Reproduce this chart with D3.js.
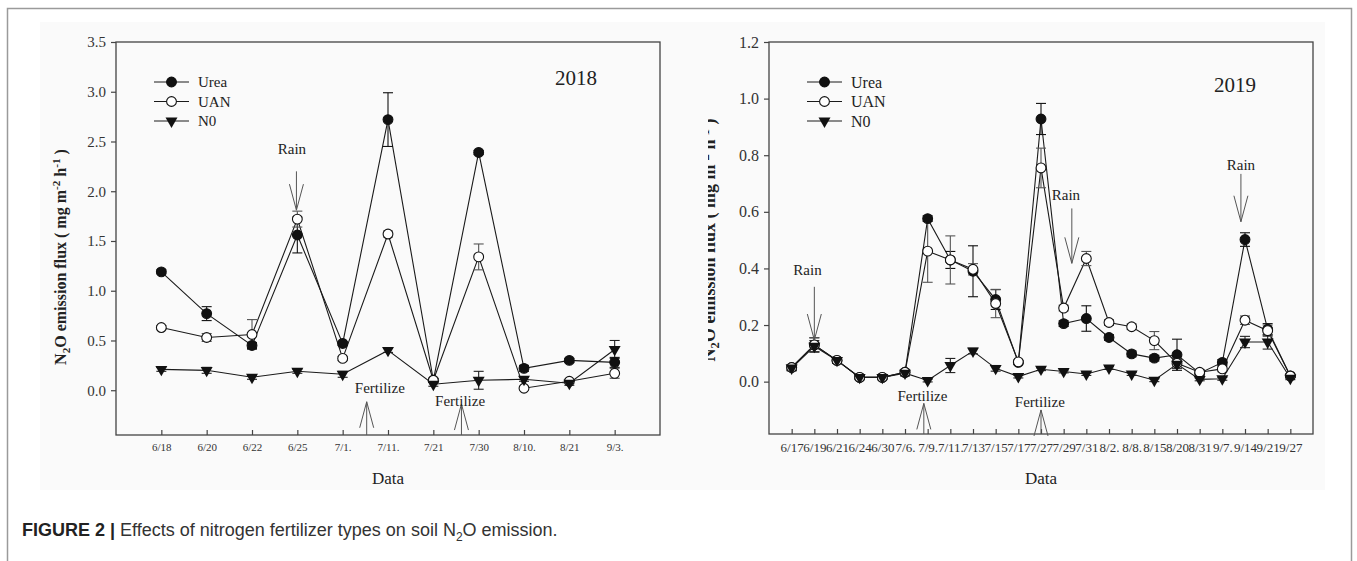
<!DOCTYPE html>
<html lang="en">
<head>
<meta charset="utf-8">
<title>N2O emission flux 2018 / 2019</title>
<script src="https://cdn.jsdelivr.net/npm/d3@7"></script>
<style>
body { margin: 0; background: #fff; }
</style>
</head>
<body>
<svg id="fig" width="1357" height="561"></svg>
<script>
// ---- 2018 data ----
var dates18 = ["6/18", "6/20", "6/22", "6/25", "7/1.", "7/11.", "7/21", "7/30", "8/10.", "8/21", "9/3."];
var urea18 = [1.19, 0.77, 0.45, 1.56, 0.47, 2.72, 0.10, 2.39, 0.22, 0.30, 0.28];
var ureaErr18 = [0.02, 0.07, 0.03, 0.18, 0.02, 0.27, 0.02, 0.02, 0.03, 0.02, 0.05];
var uan18 = [0.63, 0.53, 0.56, 1.72, 0.32, 1.57, 0.10, 1.34, 0.02, 0.09, 0.17];
var uanErr18 = [0.02, 0.04, 0.15, 0.08, 0.02, 0.03, 0.02, 0.13, 0.02, 0.02, 0.05];
var n018 = [0.21, 0.20, 0.13, 0.19, 0.16, 0.40, 0.06, 0.10, 0.11, 0.07, 0.41];
var n0Err18 = [0.02, 0.03, 0.02, 0.02, 0.03, 0.02, 0.02, 0.09, 0.02, 0.02, 0.09];
var yTicks18 = [0, 0.5, 1, 1.5, 2, 2.5, 3, 3.5];

// ---- 2019 data ----
var dates19 = ["6/17", "6/19", "6/21", "6/24", "6/30", "7/6.", "7/9.", "7/11.", "7/13", "7/15", "7/17", "7/27",
  "7/29", "7/31", "8/2.", "8/8.", "8/15", "8/20", "8/31", "9/7.", "9/14", "9/21", "9/27"];
var urea19 = [0.05, 0.13, 0.075, 0.015, 0.015, 0.033, 0.576, 0.43, 0.39, 0.29, 0.068, 0.928,
  0.205, 0.223, 0.156, 0.098, 0.083, 0.095, 0.03, 0.068, 0.502, 0.185, 0.02];
var ureaErr19 = [0.01, 0.025, 0.01, 0.005, 0.005, 0.01, 0.01, 0.03, 0.09, 0.035, 0.005, 0.055,
  0.01, 0.045, 0.01, 0.01, 0.01, 0.055, 0.01, 0.01, 0.024, 0.02, 0.005];
var uan19 = [0.05, 0.13, 0.075, 0.015, 0.015, 0.033, 0.461, 0.43, 0.397, 0.276, 0.07, 0.755,
  0.26, 0.435, 0.209, 0.194, 0.145, 0.065, 0.033, 0.045, 0.217, 0.18, 0.02];
var uanErr19 = [0.01, 0.025, 0.01, 0.005, 0.005, 0.01, 0.11, 0.085, 0.02, 0.05, 0.005, 0.07,
  0.01, 0.025, 0.01, 0.01, 0.032, 0.01, 0.01, 0.01, 0.015, 0.02, 0.005];
var n019 = [0.048, 0.125, 0.075, 0.015, 0.015, 0.03, 0.004, 0.057, 0.108, 0.047, 0.018, 0.044,
  0.036, 0.027, 0.048, 0.027, 0.005, 0.062, 0.008, 0.01, 0.14, 0.14, 0.012];
var n0Err19 = [0.01, 0.02, 0.01, 0.005, 0.005, 0.01, 0.005, 0.025, 0.01, 0.01, 0.005, 0.005,
  0.005, 0.005, 0.005, 0.005, 0.005, 0.015, 0.005, 0.005, 0.02, 0.025, 0.005];
var yTicks19 = [0, 0.2, 0.4, 0.6, 0.8, 1.0, 1.2];

var seriesNames = ["Urea", "UAN", "N0"];

// annotations, in category index / data units
var rain18 = [{x: 2.98, tx: 2.88, ty: 2.43, from: 2.2, to: 1.81}];
var fert18 = [{x: 4.53, tx: 4.82, ty: 0.025, tip: -0.116}, {x: 6.62, tx: 6.59, ty: -0.109, tip: -0.139}];
var rain19 = [{x: 1, tx: 0.70, ty: 0.394, from: 0.335, to: 0.147},
  {x: 12.36, tx: 12.1, ty: 0.662, from: 0.612, to: 0.418},
  {x: 19.82, tx: 19.82, ty: 0.768, from: 0.734, to: 0.565}];
var fert19 = [{x: 5.83, tx: 5.77, ty: -0.051, tip: -0.077}, {x: 11.0, tx: 10.95, ty: -0.071, tip: -0.10}];

var serif = "'Liberation Serif', 'Times New Roman', serif";
var svg = d3.select("#fig");

// page frame + light image background
svg.append("rect").attr("x", 40).attr("y", 22).attr("width", 1285).attr("height", 468).attr("fill", "#fafafa");
svg.append("path").attr("d", "M7.5,561V8.5H1351.5V561").attr("fill", "none").attr("stroke", "#9a9a9a").attr("stroke-width", 1.5);

function panel(o) {
  var g = svg.append("g");
  var x = d3.scaleLinear().domain([-1, o.dates.length]).range([o.left, o.right]);
  var y = d3.scaleLinear().domain(o.yDomain).range([o.bottom, o.top]);

  g.append("rect")
    .attr("x", o.left).attr("y", o.top)
    .attr("width", o.right - o.left).attr("height", o.bottom - o.top)
    .attr("fill", "none").attr("stroke", "#444").attr("stroke-width", 1.3);

  var ya = g.append("g").attr("transform", "translate(" + o.left + ",0)")
    .call(d3.axisLeft(y).tickValues(o.yTicks).tickFormat(d3.format(".1f")).tickSize(5).tickPadding(5));
  ya.select(".domain").remove();
  ya.selectAll("line").attr("stroke", "#444").attr("stroke-width", 1.2);
  ya.selectAll("text").attr("font-family", serif).attr("font-size", o.yFont).attr("fill", "#333");

  var xa = g.append("g").attr("transform", "translate(0," + o.bottom + ")")
    .call(d3.axisBottom(x).tickValues(d3.range(o.dates.length))
      .tickFormat(function(i) { return o.dates[i]; })
      .tickSizeInner(-5).tickSizeOuter(0).tickPadding(o.xPad));
  xa.select(".domain").remove();
  xa.selectAll("line").attr("stroke", "#444").attr("stroke-width", 1.2);
  xa.selectAll("text").attr("font-family", serif).attr("font-size", o.xFont).attr("fill", "#333");

  // axis titles
  g.append("text")
    .attr("x", (o.left + o.right) / 2).attr("y", o.dataY)
    .attr("text-anchor", "middle").attr("font-family", serif).attr("font-size", 17).attr("fill", "#222")
    .text("Data");

  var yt = g.append("g");
  if (o.clipX) {
    svg.append("clipPath").attr("id", "clipT").append("rect")
      .attr("x", o.clipX).attr("y", 0).attr("width", 60).attr("height", 561);
    yt.attr("clip-path", "url(#clipT)");
  }
  var tt = yt.append("text")
    .attr("transform", "translate(" + o.titleX + "," + o.titleY + ") rotate(-90)")
    .attr("text-anchor", "middle").attr("font-family", serif).attr("font-weight", "bold")
    .attr("font-size", o.titleFont).attr("fill", "#222");
  tt.append("tspan").text("N");
  tt.append("tspan").attr("dy", 4).attr("font-size", "70%").text("2");
  tt.append("tspan").attr("dy", -4).text("O emission flux ( mg m");
  tt.append("tspan").attr("dy", -6).attr("font-size", "70%").text("-2");
  tt.append("tspan").attr("dy", 6).text(" h");
  tt.append("tspan").attr("dy", -6).attr("font-size", "70%").text("-1");
  tt.append("tspan").attr("dy", 6).text(" )");

  var series = [
    {vals: o.urea, err: o.ureaErr, shape: "dot", errColor: "#111"},
    {vals: o.uan, err: o.uanErr, shape: "ring", errColor: "#555"},
    {vals: o.n0, err: o.n0Err, shape: "tri", errColor: "#222"}
  ];

  var line = d3.line().x(function(d, i) { return x(i); }).y(function(d) { return y(d); });
  series.forEach(function(s) {
    g.append("path").attr("d", line(s.vals)).attr("fill", "none").attr("stroke", "#1a1a1a").attr("stroke-width", 1.1);
  });

  var cap = 5;
  series.forEach(function(s) {
    var eb = g.append("g").attr("stroke", s.errColor).attr("stroke-width", 1.1);
    s.vals.forEach(function(v, i) {
      var cx = x(i), y0 = y(v - s.err[i]), y1 = y(v + s.err[i]);
      eb.append("line").attr("x1", cx).attr("x2", cx).attr("y1", y0).attr("y2", y1);
      eb.append("line").attr("x1", cx - cap).attr("x2", cx + cap).attr("y1", y0).attr("y2", y0);
      eb.append("line").attr("x1", cx - cap).attr("x2", cx + cap).attr("y1", y1).attr("y2", y1);
    });
  });

  var tri = d3.symbol().type(d3.symbolTriangle).size(62);
  function marker(sel, shape, cx, cy) {
    if (shape === "tri") {
      sel.append("path").attr("d", tri())
        .attr("transform", "translate(" + cx + "," + cy + ") rotate(180)").attr("fill", "#111");
    } else {
      sel.append("circle").attr("cx", cx).attr("cy", cy).attr("r", 4.9)
        .attr("fill", shape === "dot" ? "#111" : "#fff").attr("stroke", "#111").attr("stroke-width", 1.1);
    }
  }
  series.forEach(function(s) {
    var mg = g.append("g");
    s.vals.forEach(function(v, i) { marker(mg, s.shape, x(i), y(v)); });
  });

  // legend
  var lg = g.append("g").attr("transform", "translate(" + (o.left + 38) + "," + (o.top + 40) + ")");
  seriesNames.forEach(function(name, k) {
    var ly = k * 19.5;
    lg.append("line").attr("x1", 0).attr("x2", 35).attr("y1", ly).attr("y2", ly).attr("stroke", "#1a1a1a").attr("stroke-width", 1.1);
    marker(lg, series[k].shape, 17.5, ly);
    lg.append("text").attr("x", 44).attr("y", ly).attr("dy", "0.35em")
      .attr("font-family", serif).attr("font-size", o.legendFont).attr("fill", "#222").text(name);
  });

  g.append("text").attr("x", o.right - o.yearDx).attr("y", o.top + o.yearDy)
    .attr("text-anchor", "middle").attr("font-family", serif).attr("font-size", 21).attr("fill", "#222")
    .text(o.year);

  // rain arrows (pointing down) and fertilize arrows (pointing up)
  var head = 26, hw = 7;
  var ag = g.append("g").attr("stroke", "#555").attr("stroke-width", 1).attr("fill", "none");
  o.rain.forEach(function(a) {
    var ax = x(a.x), y0 = y(a.from), tip = y(a.to);
    ag.append("path").attr("d", "M" + ax + "," + y0 + "V" + tip +
      "M" + (ax - hw) + "," + (tip - head) + "L" + ax + "," + tip + "L" + (ax + hw) + "," + (tip - head));
    g.append("text").attr("x", x(a.tx)).attr("y", y(a.ty)).attr("dy", "0.35em")
      .attr("text-anchor", "middle").attr("font-family", serif).attr("font-size", o.noteFont).attr("fill", "#222")
      .text("Rain");
  });
  o.fert.forEach(function(a) {
    var ax = x(a.x), tip = y(a.tip);
    ag.append("path").attr("d", "M" + ax + "," + o.bottom + "V" + tip +
      "M" + (ax - hw) + "," + (tip + head) + "L" + ax + "," + tip + "L" + (ax + hw) + "," + (tip + head));
    g.append("text").attr("x", x(a.tx)).attr("y", y(a.ty)).attr("dy", "0.35em")
      .attr("text-anchor", "middle").attr("font-family", serif).attr("font-size", o.noteFont).attr("fill", "#222")
      .text("Fertilize");
  });
}

panel({
  dates: dates18, urea: urea18, ureaErr: ureaErr18, uan: uan18, uanErr: uanErr18, n0: n018, n0Err: n0Err18,
  yTicks: yTicks18, yDomain: [-0.45, 3.5], year: "2018", rain: rain18, fert: fert18,
  left: 116, right: 660, top: 42, bottom: 435,
  yFont: 15, xFont: 11, xPad: 8, legendFont: 15, noteFont: 15, titleFont: 16,
  titleX: 66, titleY: 257, dataY: 484, yearDx: 84, yearDy: 43
});

panel({
  dates: dates19, urea: urea19, ureaErr: ureaErr19, uan: uan19, uanErr: uanErr19, n0: n019, n0Err: n0Err19,
  yTicks: yTicks19, yDomain: [-0.185, 1.2], year: "2019", rain: rain19, fert: fert19,
  left: 769, right: 1313, top: 42, bottom: 434,
  yFont: 16, xFont: 13, xPad: 9, legendFont: 16, noteFont: 15, titleFont: 18,
  titleX: 715, titleY: 240, clipX: 708, dataY: 484, yearDx: 78, yearDy: 50
});

// caption
var cap = svg.append("text").attr("x", 22).attr("y", 536)
  .attr("font-family", "'Liberation Sans', Arial, sans-serif").attr("font-size", 18).attr("fill", "#333");
cap.append("tspan").attr("font-weight", "bold").attr("fill", "#222").text("FIGURE 2 | ");
cap.append("tspan").text("Effects of nitrogen fertilizer types on soil N");
cap.append("tspan").attr("dy", 5).attr("font-size", 12).text("2");
cap.append("tspan").attr("dy", -5).text("O emission.");
</script>
</body>
</html>
